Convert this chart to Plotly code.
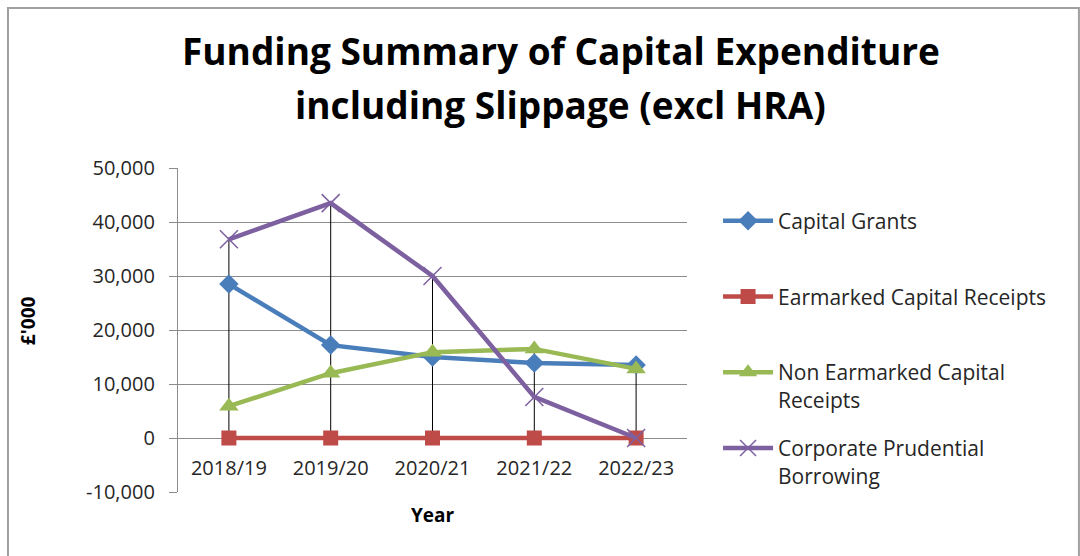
import plotly.graph_objects as go

years = ["2018/19", "2019/20", "2020/21", "2021/22", "2022/23"]
capital_grants = [28500, 17200, 15000, 13900, 13500]
earmarked = [0, 0, 0, 0, 0]
non_earmarked = [5900, 12000, 15900, 16500, 12800]
corporate = [36800, 43500, 30000, 7600, 0]
y_ticks = [-10000, 0, 10000, 20000, 30000, 40000, 50000]
y_tick_labels = ["-10,000", "0", "10,000", "20,000", "30,000", "40,000", "50,000"]

FONT = "Open Sans, sans-serif"
TXT = "#262626"

series = [
    ("Capital Grants", capital_grants, "#4A7EBB", "diamond", 15, 0),
    ("Earmarked Capital Receipts", earmarked, "#BE4B48", "square", 15, 0),
    ("Non Earmarked Capital<br>Receipts", non_earmarked, "#98B954", "triangle-up", 17, 0),
    ("Corporate Prudential<br>Borrowing", corporate, "#7D60A0", "x-thin-open", 18, 1.5),
]

fig = go.Figure()

# drop lines from the highest value down to zero
dx, dy = [], []
for i, yr in enumerate(years):
    top = max(s[1][i] for s in series)
    dx += [yr, yr, None]
    dy += [top, 0, None]
fig.add_trace(go.Scatter(x=dx, y=dy, mode="lines", line=dict(color="black", width=1),
                         showlegend=False, hoverinfo="skip"))

legend_y = [0.836, 0.602, 0.327, 0.093]
for k, (name, vals, color, sym, size, lw) in enumerate(series):
    lg = "legend" if k == 0 else f"legend{k+1}"
    fig.add_trace(go.Scatter(
        x=years, y=vals, name=name, mode="lines+markers",
        line=dict(color=color, width=4.5),
        marker=dict(symbol=sym, size=size, color=color,
                    line=dict(color=color, width=lw) if lw else dict(width=0)),
        legend=lg,
    ))

layout_legends = {}
for k in range(4):
    key = "legend" if k == 0 else f"legend{k+1}"
    layout_legends[key] = dict(
        x=1.061, y=legend_y[k], xanchor="left", yanchor="middle",
        font=dict(family=FONT, size=21, color=TXT), valign="top",
        bgcolor="rgba(0,0,0,0)", itemwidth=50, tracegroupgap=0,
    )

fig.update_layout(
    width=1080, height=556,
    paper_bgcolor="white", plot_bgcolor="white",
    margin=dict(l=178, r=393, t=168, b=64),
    xaxis=dict(type="category", range=[-0.5, 4.5], showgrid=False,
               anchor="free", position=10000 / 60000, showline=False,
               ticks="outside", ticklen=12, tickcolor="rgba(0,0,0,0)",
               tickfont=dict(family=FONT, size=20, color=TXT)),
    yaxis=dict(range=[-10000, 50000], tickvals=y_ticks, ticktext=y_tick_labels,
               showgrid=True, gridcolor="#8c8c8c", gridwidth=1.3, zeroline=False,
               showline=True, linecolor="#8c8c8c", linewidth=1.3,
               ticks="outside", ticklen=8, tickcolor="#8c8c8c", tickwidth=1.3,
               ticklabelstandoff=10,
               tickfont=dict(family=FONT, size=20, color=TXT)),
    **layout_legends,
    annotations=[
        dict(text="<b>Funding Summary of Capital Expenditure</b>", xref="paper", yref="paper",
             x=0.752, y=1.364, xanchor="center", yanchor="middle", showarrow=False,
             font=dict(family=FONT, size=37, color="black")),
        dict(text="<b>including Slippage (excl HRA)</b>", xref="paper", yref="paper",
             x=0.752, y=1.197, xanchor="center", yanchor="middle", showarrow=False,
             font=dict(family=FONT, size=37, color="black")),
        dict(text="<b>£'000</b>", xref="paper", yref="paper", x=-0.295, y=0.53,
             xanchor="center", yanchor="middle", textangle=-90, showarrow=False,
             font=dict(family=FONT, size=19, color="black")),
        dict(text="<b>Year</b>", xref="paper", yref="paper", x=0.5, y=-0.071,
             xanchor="center", yanchor="middle", showarrow=False,
             font=dict(family=FONT, size=19, color="black")),
    ],
    shapes=[dict(type="rect", xref="paper", yref="paper", x0=-0.334, x1=1.77, y0=-0.26, y1=1.494,
                 line=dict(color="#a0a0a0", width=2), fillcolor="rgba(0,0,0,0)", layer="below")],
)

fig.write_html("out.html", config={"displayModeBar": False},
               post_script="document.body.style.margin='0';")
